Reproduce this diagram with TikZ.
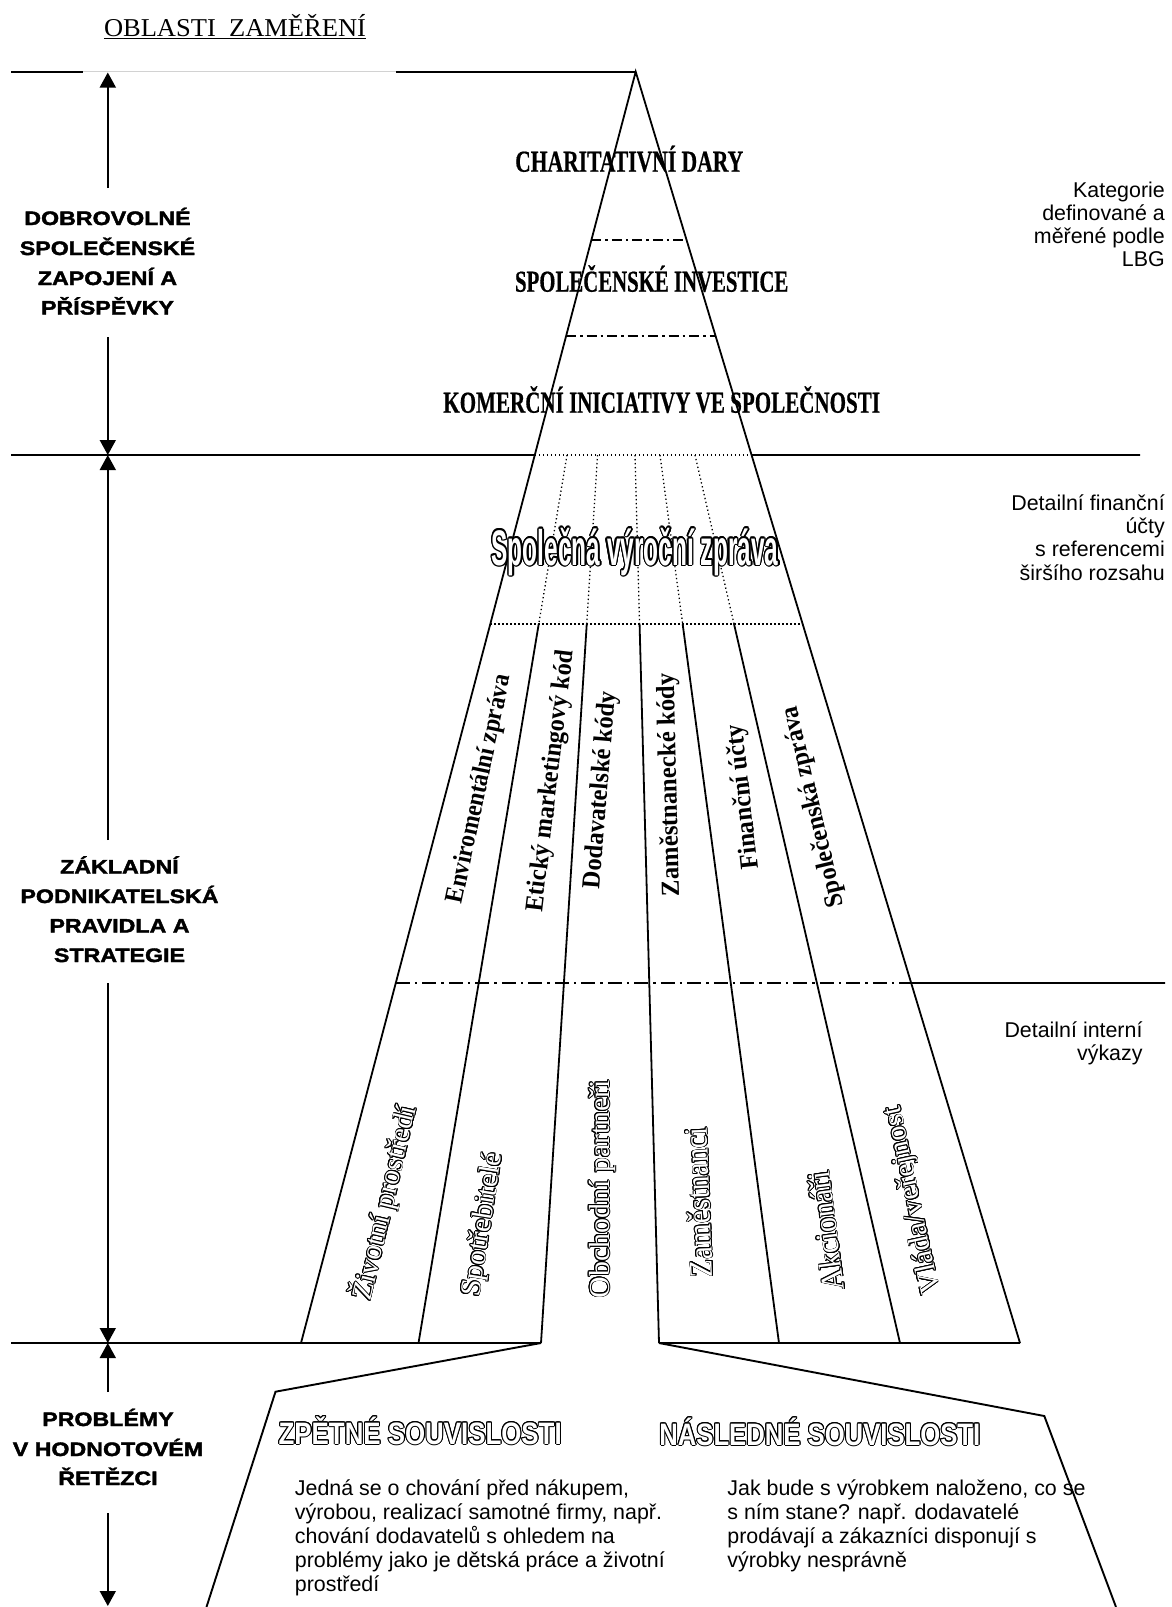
\documentclass[tikz,border=0pt]{standalone}
\usepackage{fontspec}
\usepackage[copies]{contour}
\usetikzlibrary{arrows.meta,calc}
\setmainfont{Liberation Serif}
\newfontfamily\arialfont{Liberation Sans}
\newfontfamily\heavyfont{Liberation Sans}[FakeStretch=1.19,FakeBold=2]
\newfontfamily\headfont{Liberation Serif}[FakeStretch=0.74,FakeBold=0.5]
\newfontfamily\wordartfont{Liberation Sans}[FakeStretch=0.5]
\newfontfamily\outlinefont{Liberation Sans}[FakeStretch=0.83]
% squeeze a text to a given width, keeping its height
\newcommand\fitwidth[2]{\resizebox{#1pt}{\height}{#2}}
% hollow lettering: white face with a black rim
\newcommand\hollowtext[2][0.8pt]{{\contourlength{#1}\color{white}\contour{black}{#2}}}

\begin{document}
\begin{tikzpicture}[x=1pt,y=-1pt,
  sideline/.style={line width=1.8pt},
  levelline/.style={line width=1.9pt},
  dotsep/.style={line width=1.3pt,dash pattern=on 1.3pt off 2.7pt},
  dashdotA/.style={line width=1.5pt,dash pattern=on 10pt off 4pt on 2.5pt off 4pt},
  dashdotB/.style={line width=1.5pt,dash pattern=on 14pt off 5pt on 2.5pt off 5pt},
  dimarrow/.style={line width=1.6pt,-{Triangle[width=16pt,length=15pt]}},
  txt/.style={inner sep=0pt,anchor=base},
  sidelabel/.style={txt,font=\heavyfont\bfseries\fontsize{19.5}{23}\selectfont},
  note/.style={inner sep=0pt,anchor=base east,font=\arialfont\fontsize{21.4}{24}\selectfont},
  body/.style={inner sep=0pt,anchor=base west,font=\arialfont\fontsize{21.4}{24}\selectfont},
  headline/.style={txt,font=\headfont\bfseries\fontsize{30.5}{34}\selectfont},
  midlabel/.style={inner sep=0pt,anchor=center,font=\bfseries\fontsize{26}{30}\selectfont},
  lowlabel/.style={inner sep=0pt,anchor=center,font=\fontsize{29}{33}\selectfont},
  outhead/.style={txt,font=\outlinefont\bfseries\fontsize{31}{36}\selectfont}
]
\useasboundingbox (0,0) rectangle (1172,1607);

% ---------- key points of the pyramid ----------
\coordinate (apex) at (635.7,71.7);
\coordinate (oLb) at (301,1343);
\coordinate (oRb) at (1020,1343);
\foreach \t/\n in {0.13238/240,0.20790/336,0.30150/455,0.43444/624,0.71683/983}{
  \coordinate (oL\n) at ($(apex)!\t!(oLb)$);
  \coordinate (oR\n) at ($(apex)!\t!(oRb)$);
}
% strip dividers: top on the 455 level, bottom on the base
\coordinate (dt1) at (567,455);   \coordinate (db1) at (418.5,1343);
\coordinate (dt2) at (597.5,455); \coordinate (db2) at (541,1343);
\coordinate (dt3) at (635,455);   \coordinate (db3) at (659,1343);
\coordinate (dt4) at (660,455);   \coordinate (db4) at (779,1343);
\coordinate (dt5) at (695,455);   \coordinate (db5) at (900,1343);
\foreach \i in {1,...,5}{\coordinate (dm\i) at ($(dt\i)!0.19032!(db\i)$);}
% funnel below the base
\coordinate (fl1) at (275.5,1391.7); \coordinate (fl2) at (206.5,1607);
\coordinate (fr1) at (1044.3,1416);  \coordinate (fr2) at (1116,1607);
% ends of the level lines
\coordinate (hl0a) at (11,71.7); \coordinate (hl0b) at (83,71.7); \coordinate (hl0c) at (396,71.7);
\coordinate (h1a) at (11,455);   \coordinate (h1b) at (1140,455);
\coordinate (h3b) at (1165,983);
\coordinate (h4a) at (11,1343);

% ---------- level lines ----------
\draw[levelline] (hl0a) -- (hl0b);
\draw[gray!35,line width=0.8pt] (hl0b) -- (hl0c);
\draw[levelline] (hl0c) -- (apex);
\draw[dashdotA] (oL240) -- (oR240);
\draw[dashdotA] (oL336) -- (oR336);
\draw[levelline] (h1a) -- (oL455);
\draw[dotsep] (oL455) -- (oR455);
\draw[levelline] (oR455) -- (h1b);
\draw[dotsep] (oL624) -- (oR624);
\draw[dashdotB] (oL983) -- (oR983);
\draw[levelline] (oR983) -- (h3b);

% ---------- pyramid sides and strips ----------
\draw[sideline] (oLb) -- (apex) -- (oRb);
\foreach \i in {1,...,5}{
  \draw[dotsep] (dt\i) -- (dm\i);
  \draw[sideline] (dm\i) -- (db\i);
}
\draw[levelline,line join=miter] (h4a) -- (db2) -- (fl1) -- (fl2);
\draw[levelline,line join=miter] (fr2) -- (fr1) -- (db3) -- (oRb);

% ---------- dimension arrows on the left ----------
\coordinate (ax0) at (107.8,72.5);  \coordinate (ax1) at (107.8,188);
\coordinate (ax2) at (107.8,337);   \coordinate (ax3) at (107.8,455);
\coordinate (ax4) at (107.8,840);   \coordinate (ax5) at (107.8,983);
\coordinate (ax6) at (107.8,1343);  \coordinate (ax7) at (107.8,1392);
\coordinate (ax8) at (107.8,1513);  \coordinate (ax9) at (107.8,1606);
\draw[dimarrow] (ax1) -- (ax0);
\draw[dimarrow] (ax2) -- (ax3);
\draw[dimarrow] (ax4) -- (ax3);
\draw[dimarrow] (ax5) -- (ax6);
\draw[dimarrow] (ax7) -- (ax6);
\draw[dimarrow] (ax8) -- (ax9);

% ---------- title ----------
\node[txt,font=\fontsize{25.7}{30}\selectfont] (title) at (235,36) {\fitwidth{262}{OBLASTI\ \ ZAMĚŘENÍ}};
\draw[line width=1.1pt] ([yshift=-2.6pt]title.base west) -- ([yshift=-2.6pt]title.base east);

% ---------- left side labels ----------
\node[sidelabel] (va) at (107.5,225)   {DOBROVOLNÉ};
\node[sidelabel] (vb) at (107.5,255)   {SPOLEČENSKÉ};
\node[sidelabel] (vc) at (107.5,285)   {ZAPOJENÍ A};
\node[sidelabel] (vd) at (107.5,314.5) {PŘÍSPĚVKY};
\node[sidelabel] (ba) at (119.5,873.5) {ZÁKLADNÍ};
\node[sidelabel] (bb) at (119.5,903)   {PODNIKATELSKÁ};
\node[sidelabel] (bc) at (119.5,932.5) {PRAVIDLA A};
\node[sidelabel] (bd) at (119.5,962)   {STRATEGIE};
\node[sidelabel] (pa) at (108,1426)    {PROBLÉMY};
\node[sidelabel] (pb) at (108,1456)    {V HODNOTOVÉM};
\node[sidelabel] (pc) at (108,1485)    {ŘETĚZCI};

% ---------- right side notes ----------
\node[note] (ka) at (1165,197)  {Kategorie};
\node[note] (kb) at (1165,220)  {definované a};
\node[note] (kc) at (1165,243)  {měřené podle};
\node[note] (kd) at (1165,266)  {LBG};
\node[note] (fa) at (1165,510)  {Detailní finanční};
\node[note] (fb) at (1165,533.3){účty};
\node[note] (fc) at (1165,556.7){s referencemi};
\node[note] (fd) at (1165,580)  {širšího rozsahu};
\node[note] (ia) at (1142.7,1037.3){Detailní interní};
\node[note] (ib) at (1142.7,1060)  {výkazy};

% ---------- top of the pyramid ----------
\node[headline] (charity) at (629.2,171.7) {\fitwidth{228}{CHARITATIVNÍ DARY}};
\node[headline] (socinv)  at (651.7,291.7) {\fitwidth{273.3}{SPOLEČENSKÉ INVESTICE}};
\node[headline] (commerc) at (661.7,412.7) {\fitwidth{436.7}{KOMERČNÍ INICIATIVY VE SPOLEČNOSTI}};

% ---------- middle band ----------
\node[txt,font=\wordartfont\bfseries\fontsize{50}{54}\selectfont] (annual) at (635,565)
  {\fitwidth{287}{\hollowtext[1.4pt]{Společná výroční zpráva}}};
\node[midlabel,rotate=78]   (envrep) at (480,789)     {\fitwidth{233}{Enviromentální zpráva}};
\node[midlabel,rotate=83.2] (ethic)  at (551.5,781)   {\fitwidth{263}{Etický marketingový kód}};
\node[midlabel,rotate=85.3] (supcod) at (601,790)     {\fitwidth{198}{Dodavatelské kódy}};
\node[midlabel,rotate=91.4] (empcod) at (670,785)     {\fitwidth{223}{Zaměstnanecké kódy}};
\node[midlabel,rotate=96.1] (finacc) at (744,797)     {\fitwidth{146}{Finanční účty}};
\node[midlabel,rotate=103.4](socrep) at (813.8,806.7) {\fitwidth{205.6}{Společenská zpráva}};

% ---------- lower band ----------
\node[lowlabel,rotate=76.6] (envir) at (384.5,1203) {\fitwidth{198.7}{\hollowtext{Životní prostředí}}};
\node[lowlabel,rotate=80.9] (consum) at (484,1225)  {\fitwidth{145}{\hollowtext{Spotřebitelé}}};
\node[lowlabel,rotate=90]   (partn) at (602.6,1189) {\fitwidth{218}{\hollowtext{Obchodní partneři}}};
\node[lowlabel,rotate=92.3,font=\fontsize{33}{36}\selectfont] (staff) at (699,1202.5) {\fitwidth{150}{\hollowtext{Zaměstnanci}}};
\node[lowlabel,rotate=97.5,font=\fontsize{32}{36}\selectfont] (share) at (826.4,1231) {\fitwidth{120}{\hollowtext{Akcionáři}}};
\node[lowlabel,rotate=102.2](govt) at (913.5,1200)  {\fitwidth{191}{\hollowtext{Vláda/veřejnost}}};

% ---------- value chain ----------
\node[outhead] (uphead) at (420.2,1444) {\fitwidth{283}{\hollowtext[1pt]{ZPĚTNÉ SOUVISLOSTI}}};
\node[outhead] (downhead) at (819.8,1445) {\fitwidth{321}{\hollowtext[1pt]{NÁSLEDNÉ SOUVISLOSTI}}};
\node[body] (ua) at (294.7,1495) {Jedná se o chování před nákupem,};
\node[body] (ub) at (294.7,1519) {výrobou, realizací samotné firmy, např.};
\node[body] (uc) at (294.7,1543) {chování dodavatelů s ohledem na};
\node[body] (ud) at (294.7,1567) {problémy jako je dětská práce a životní};
\node[body] (ue) at (294.7,1591) {prostředí};
\node[body] (da) at (727.2,1495) {Jak bude s výrobkem naloženo, co se};
\node[body] (db) at (727.2,1519) {s ním stane? např. dodavatelé};
\node[body] (dc) at (727.2,1543) {prodávají a zákazníci disponují s};
\node[body] (dd) at (727.2,1567) {výrobky nesprávně};
\end{tikzpicture}
\end{document}
